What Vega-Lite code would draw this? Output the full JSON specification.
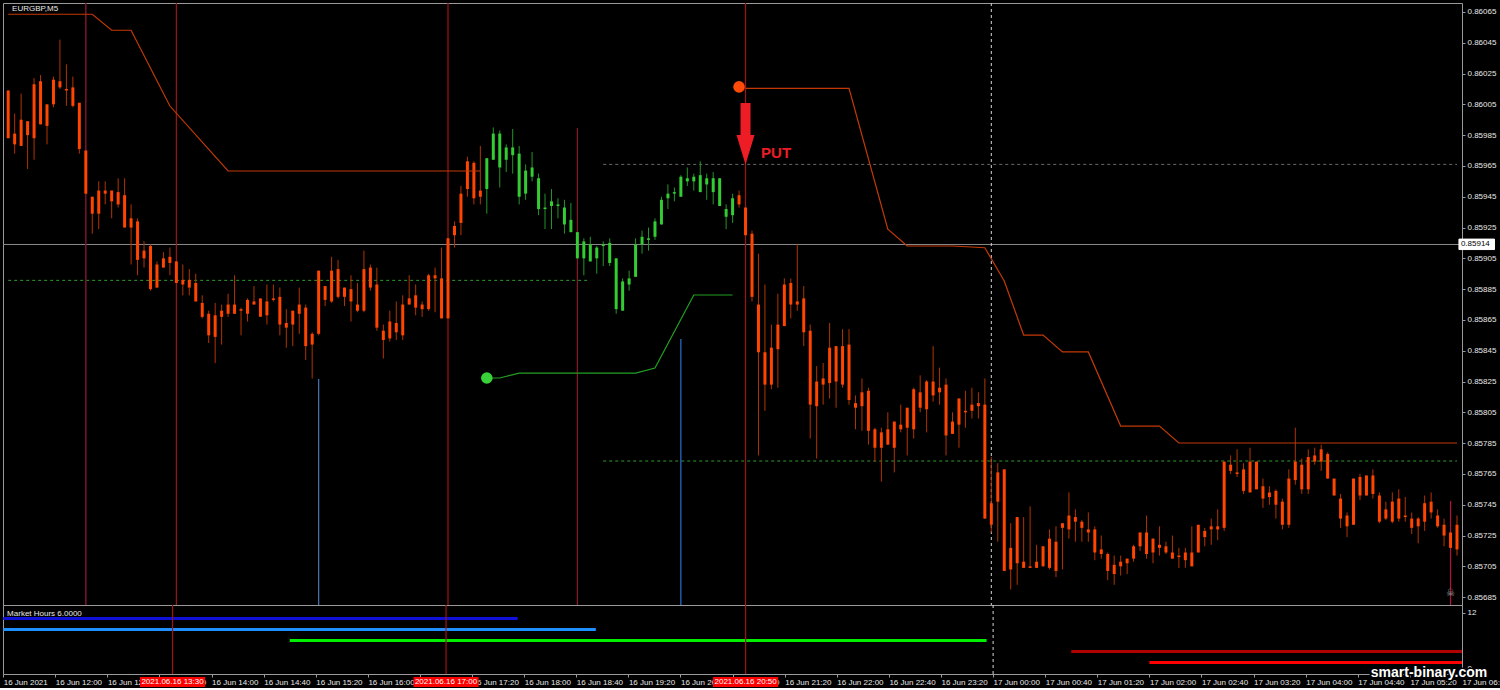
{
"$schema": "https://vega.github.io/schema/vega-lite/v6.json",
"background": "#000000",
"padding": {"left": 2, "top": 2, "right": 0, "bottom": 0},
"spacing": 0,
"bounds": "flush",
"config": {
  "view": {"stroke": "#9a9a9a", "strokeWidth": 1},
  "axis": {"labelFont": "Liberation Sans", "labelFontSize": 8, "labelColor": "#e8e8e8", "tickColor": "#9a9a9a", "domain": false, "grid": false, "labelOverlap": false, "labelFlush": false, "labelBound": false}
},
"datasets": {
"candles": [
{"t":"2021-06-16T11:20","o":0.86014,"h":0.86014,"l":0.85983,"c":0.85983,"trend":"down"},
{"t":"2021-06-16T11:25","o":0.85986,"h":0.85999,"l":0.85973,"c":0.85979,"trend":"down"},
{"t":"2021-06-16T11:30","o":0.85995,"h":0.86012,"l":0.85978,"c":0.85978,"trend":"down"},
{"t":"2021-06-16T11:35","o":0.85994,"h":0.85994,"l":0.85963,"c":0.85985,"trend":"down"},
{"t":"2021-06-16T11:40","o":0.86018,"h":0.86022,"l":0.85969,"c":0.85983,"trend":"down"},
{"t":"2021-06-16T11:45","o":0.86020,"h":0.86024,"l":0.85992,"c":0.85992,"trend":"down"},
{"t":"2021-06-16T11:50","o":0.86005,"h":0.86005,"l":0.85979,"c":0.85991,"trend":"down"},
{"t":"2021-06-16T11:55","o":0.86021,"h":0.86023,"l":0.86003,"c":0.86005,"trend":"down"},
{"t":"2021-06-16T12:00","o":0.86020,"h":0.86047,"l":0.86015,"c":0.86016,"trend":"down"},
{"t":"2021-06-16T12:05","o":0.86015,"h":0.86031,"l":0.86004,"c":0.86014,"trend":"down"},
{"t":"2021-06-16T12:10","o":0.86016,"h":0.86023,"l":0.86003,"c":0.86004,"trend":"down"},
{"t":"2021-06-16T12:15","o":0.86006,"h":0.86006,"l":0.85973,"c":0.85976,"trend":"down"},
{"t":"2021-06-16T12:20","o":0.85975,"h":0.85975,"l":0.85947,"c":0.85947,"trend":"down"},
{"t":"2021-06-16T12:25","o":0.85945,"h":0.85945,"l":0.85921,"c":0.85934,"trend":"down"},
{"t":"2021-06-16T12:30","o":0.85949,"h":0.85955,"l":0.85924,"c":0.85934,"trend":"down"},
{"t":"2021-06-16T12:35","o":0.85949,"h":0.85955,"l":0.85940,"c":0.85947,"trend":"down"},
{"t":"2021-06-16T12:40","o":0.85949,"h":0.85949,"l":0.85931,"c":0.85942,"trend":"down"},
{"t":"2021-06-16T12:45","o":0.85948,"h":0.85957,"l":0.85938,"c":0.85940,"trend":"down"},
{"t":"2021-06-16T12:50","o":0.85946,"h":0.85957,"l":0.85925,"c":0.85925,"trend":"down"},
{"t":"2021-06-16T12:55","o":0.85931,"h":0.85940,"l":0.85901,"c":0.85925,"trend":"down"},
{"t":"2021-06-16T13:00","o":0.85929,"h":0.85931,"l":0.85894,"c":0.85904,"trend":"down"},
{"t":"2021-06-16T13:05","o":0.85910,"h":0.85916,"l":0.85899,"c":0.85905,"trend":"down"},
{"t":"2021-06-16T13:10","o":0.85913,"h":0.85914,"l":0.85884,"c":0.85885,"trend":"down"},
{"t":"2021-06-16T13:15","o":0.85901,"h":0.85903,"l":0.85886,"c":0.85886,"trend":"down"},
{"t":"2021-06-16T13:20","o":0.85905,"h":0.85909,"l":0.85899,"c":0.85899,"trend":"down"},
{"t":"2021-06-16T13:25","o":0.85906,"h":0.85912,"l":0.85894,"c":0.85902,"trend":"down"},
{"t":"2021-06-16T13:30","o":0.85903,"h":0.85903,"l":0.85889,"c":0.85889,"trend":"down"},
{"t":"2021-06-16T13:35","o":0.85891,"h":0.85901,"l":0.85881,"c":0.85888,"trend":"down"},
{"t":"2021-06-16T13:40","o":0.85891,"h":0.85898,"l":0.85881,"c":0.85886,"trend":"down"},
{"t":"2021-06-16T13:45","o":0.85889,"h":0.85895,"l":0.85877,"c":0.85877,"trend":"down"},
{"t":"2021-06-16T13:50","o":0.85876,"h":0.85881,"l":0.85866,"c":0.85867,"trend":"down"},
{"t":"2021-06-16T13:55","o":0.85869,"h":0.85871,"l":0.85850,"c":0.85855,"trend":"down"},
{"t":"2021-06-16T14:00","o":0.85868,"h":0.85876,"l":0.85837,"c":0.85854,"trend":"down"},
{"t":"2021-06-16T14:05","o":0.85871,"h":0.85875,"l":0.85849,"c":0.85867,"trend":"down"},
{"t":"2021-06-16T14:10","o":0.85875,"h":0.85882,"l":0.85867,"c":0.85869,"trend":"down"},
{"t":"2021-06-16T14:15","o":0.85875,"h":0.85894,"l":0.85869,"c":0.85869,"trend":"down"},
{"t":"2021-06-16T14:20","o":0.85872,"h":0.85873,"l":0.85855,"c":0.85871,"trend":"down"},
{"t":"2021-06-16T14:25","o":0.85878,"h":0.85879,"l":0.85864,"c":0.85869,"trend":"down"},
{"t":"2021-06-16T14:30","o":0.85877,"h":0.85887,"l":0.85875,"c":0.85875,"trend":"down"},
{"t":"2021-06-16T14:35","o":0.85879,"h":0.85879,"l":0.85867,"c":0.85867,"trend":"down"},
{"t":"2021-06-16T14:40","o":0.85877,"h":0.85888,"l":0.85862,"c":0.85868,"trend":"down"},
{"t":"2021-06-16T14:45","o":0.85879,"h":0.85888,"l":0.85877,"c":0.85878,"trend":"down"},
{"t":"2021-06-16T14:50","o":0.85880,"h":0.85886,"l":0.85855,"c":0.85862,"trend":"down"},
{"t":"2021-06-16T14:55","o":0.85863,"h":0.85872,"l":0.85847,"c":0.85860,"trend":"down"},
{"t":"2021-06-16T15:00","o":0.85871,"h":0.85871,"l":0.85848,"c":0.85862,"trend":"down"},
{"t":"2021-06-16T15:05","o":0.85875,"h":0.85886,"l":0.85856,"c":0.85869,"trend":"down"},
{"t":"2021-06-16T15:10","o":0.85873,"h":0.85875,"l":0.85839,"c":0.85848,"trend":"down"},
{"t":"2021-06-16T15:15","o":0.85856,"h":0.85857,"l":0.85827,"c":0.85849,"trend":"down"},
{"t":"2021-06-16T15:20","o":0.85897,"h":0.85897,"l":0.85855,"c":0.85856,"trend":"down"},
{"t":"2021-06-16T15:25","o":0.85887,"h":0.85887,"l":0.85874,"c":0.85878,"trend":"down"},
{"t":"2021-06-16T15:30","o":0.85897,"h":0.85906,"l":0.85876,"c":0.85877,"trend":"down"},
{"t":"2021-06-16T15:35","o":0.85898,"h":0.85904,"l":0.85879,"c":0.85880,"trend":"down"},
{"t":"2021-06-16T15:40","o":0.85886,"h":0.85886,"l":0.85874,"c":0.85880,"trend":"down"},
{"t":"2021-06-16T15:45","o":0.85885,"h":0.85894,"l":0.85864,"c":0.85877,"trend":"down"},
{"t":"2021-06-16T15:50","o":0.85875,"h":0.85889,"l":0.85870,"c":0.85871,"trend":"down"},
{"t":"2021-06-16T15:55","o":0.85898,"h":0.85910,"l":0.85870,"c":0.85871,"trend":"down"},
{"t":"2021-06-16T16:00","o":0.85899,"h":0.85901,"l":0.85884,"c":0.85886,"trend":"down"},
{"t":"2021-06-16T16:05","o":0.85888,"h":0.85899,"l":0.85858,"c":0.85860,"trend":"down"},
{"t":"2021-06-16T16:10","o":0.85858,"h":0.85862,"l":0.85840,"c":0.85852,"trend":"down"},
{"t":"2021-06-16T16:15","o":0.85864,"h":0.85871,"l":0.85851,"c":0.85853,"trend":"down"},
{"t":"2021-06-16T16:20","o":0.85863,"h":0.85877,"l":0.85852,"c":0.85857,"trend":"down"},
{"t":"2021-06-16T16:25","o":0.85875,"h":0.85881,"l":0.85852,"c":0.85855,"trend":"down"},
{"t":"2021-06-16T16:30","o":0.85879,"h":0.85894,"l":0.85875,"c":0.85875,"trend":"down"},
{"t":"2021-06-16T16:35","o":0.85881,"h":0.85888,"l":0.85868,"c":0.85873,"trend":"down"},
{"t":"2021-06-16T16:40","o":0.85875,"h":0.85877,"l":0.85867,"c":0.85872,"trend":"down"},
{"t":"2021-06-16T16:45","o":0.85894,"h":0.85895,"l":0.85871,"c":0.85872,"trend":"down"},
{"t":"2021-06-16T16:50","o":0.85894,"h":0.85899,"l":0.85870,"c":0.85892,"trend":"down"},
{"t":"2021-06-16T16:55","o":0.85892,"h":0.85912,"l":0.85866,"c":0.85866,"trend":"down"},
{"t":"2021-06-16T17:00","o":0.85918,"h":0.85918,"l":0.85866,"c":0.85866,"trend":"down"},
{"t":"2021-06-16T17:05","o":0.85926,"h":0.85929,"l":0.85912,"c":0.85920,"trend":"down"},
{"t":"2021-06-16T17:10","o":0.85947,"h":0.85952,"l":0.85920,"c":0.85928,"trend":"down"},
{"t":"2021-06-16T17:15","o":0.85968,"h":0.85971,"l":0.85945,"c":0.85950,"trend":"down"},
{"t":"2021-06-16T17:20","o":0.85967,"h":0.85968,"l":0.85940,"c":0.85944,"trend":"down"},
{"t":"2021-06-16T17:25","o":0.85949,"h":0.85978,"l":0.85940,"c":0.85945,"trend":"down"},
{"t":"2021-06-16T17:30","o":0.85970,"h":0.85970,"l":0.85934,"c":0.85950,"trend":"up"},
{"t":"2021-06-16T17:35","o":0.85986,"h":0.85990,"l":0.85969,"c":0.85969,"trend":"up"},
{"t":"2021-06-16T17:40","o":0.85986,"h":0.85988,"l":0.85951,"c":0.85964,"trend":"up"},
{"t":"2021-06-16T17:45","o":0.85977,"h":0.85979,"l":0.85961,"c":0.85969,"trend":"up"},
{"t":"2021-06-16T17:50","o":0.85977,"h":0.85989,"l":0.85960,"c":0.85972,"trend":"up"},
{"t":"2021-06-16T17:55","o":0.85973,"h":0.85978,"l":0.85940,"c":0.85945,"trend":"up"},
{"t":"2021-06-16T18:00","o":0.85962,"h":0.85966,"l":0.85943,"c":0.85947,"trend":"up"},
{"t":"2021-06-16T18:05","o":0.85964,"h":0.85974,"l":0.85955,"c":0.85958,"trend":"up"},
{"t":"2021-06-16T18:10","o":0.85957,"h":0.85960,"l":0.85933,"c":0.85937,"trend":"up"},
{"t":"2021-06-16T18:15","o":0.85938,"h":0.85947,"l":0.85924,"c":0.85937,"trend":"up"},
{"t":"2021-06-16T18:20","o":0.85942,"h":0.85950,"l":0.85924,"c":0.85939,"trend":"up"},
{"t":"2021-06-16T18:25","o":0.85940,"h":0.85944,"l":0.85931,"c":0.85939,"trend":"up"},
{"t":"2021-06-16T18:30","o":0.85938,"h":0.85943,"l":0.85921,"c":0.85927,"trend":"up"},
{"t":"2021-06-16T18:35","o":0.85930,"h":0.85941,"l":0.85922,"c":0.85922,"trend":"up"},
{"t":"2021-06-16T18:40","o":0.85922,"h":0.85922,"l":0.85905,"c":0.85905,"trend":"up"},
{"t":"2021-06-16T18:45","o":0.85916,"h":0.85918,"l":0.85894,"c":0.85905,"trend":"up"},
{"t":"2021-06-16T18:50","o":0.85914,"h":0.85919,"l":0.85903,"c":0.85903,"trend":"up"},
{"t":"2021-06-16T18:55","o":0.85912,"h":0.85913,"l":0.85895,"c":0.85905,"trend":"up"},
{"t":"2021-06-16T19:00","o":0.85914,"h":0.85916,"l":0.85900,"c":0.85913,"trend":"up"},
{"t":"2021-06-16T19:05","o":0.85915,"h":0.85918,"l":0.85900,"c":0.85902,"trend":"up"},
{"t":"2021-06-16T19:10","o":0.85905,"h":0.85905,"l":0.85869,"c":0.85872,"trend":"up"},
{"t":"2021-06-16T19:15","o":0.85890,"h":0.85892,"l":0.85871,"c":0.85871,"trend":"up"},
{"t":"2021-06-16T19:20","o":0.85892,"h":0.85897,"l":0.85884,"c":0.85888,"trend":"up"},
{"t":"2021-06-16T19:25","o":0.85914,"h":0.85918,"l":0.85893,"c":0.85893,"trend":"up"},
{"t":"2021-06-16T19:30","o":0.85919,"h":0.85923,"l":0.85908,"c":0.85914,"trend":"up"},
{"t":"2021-06-16T19:35","o":0.85918,"h":0.85925,"l":0.85910,"c":0.85917,"trend":"up"},
{"t":"2021-06-16T19:40","o":0.85929,"h":0.85931,"l":0.85917,"c":0.85919,"trend":"up"},
{"t":"2021-06-16T19:45","o":0.85943,"h":0.85945,"l":0.85927,"c":0.85927,"trend":"up"},
{"t":"2021-06-16T19:50","o":0.85947,"h":0.85953,"l":0.85937,"c":0.85944,"trend":"up"},
{"t":"2021-06-16T19:55","o":0.85948,"h":0.85951,"l":0.85942,"c":0.85947,"trend":"up"},
{"t":"2021-06-16T20:00","o":0.85958,"h":0.85959,"l":0.85945,"c":0.85945,"trend":"up"},
{"t":"2021-06-16T20:05","o":0.85957,"h":0.85964,"l":0.85952,"c":0.85955,"trend":"up"},
{"t":"2021-06-16T20:10","o":0.85958,"h":0.85960,"l":0.85949,"c":0.85955,"trend":"up"},
{"t":"2021-06-16T20:15","o":0.85959,"h":0.85968,"l":0.85948,"c":0.85948,"trend":"up"},
{"t":"2021-06-16T20:20","o":0.85957,"h":0.85960,"l":0.85943,"c":0.85953,"trend":"up"},
{"t":"2021-06-16T20:25","o":0.85957,"h":0.85961,"l":0.85940,"c":0.85948,"trend":"up"},
{"t":"2021-06-16T20:30","o":0.85957,"h":0.85957,"l":0.85939,"c":0.85939,"trend":"up"},
{"t":"2021-06-16T20:35","o":0.85937,"h":0.85940,"l":0.85924,"c":0.85932,"trend":"up"},
{"t":"2021-06-16T20:40","o":0.85944,"h":0.85947,"l":0.85928,"c":0.85933,"trend":"up"},
{"t":"2021-06-16T20:45","o":0.85946,"h":0.85949,"l":0.85938,"c":0.85940,"trend":"down"},
{"t":"2021-06-16T20:50","o":0.85938,"h":0.85938,"l":0.85920,"c":0.85920,"trend":"down"},
{"t":"2021-06-16T20:55","o":0.85921,"h":0.85923,"l":0.85877,"c":0.85880,"trend":"down"},
{"t":"2021-06-16T21:00","o":0.85875,"h":0.85908,"l":0.85777,"c":0.85844,"trend":"down"},
{"t":"2021-06-16T21:05","o":0.85844,"h":0.85888,"l":0.85806,"c":0.85823,"trend":"down"},
{"t":"2021-06-16T21:10","o":0.85847,"h":0.85862,"l":0.85820,"c":0.85823,"trend":"down"},
{"t":"2021-06-16T21:15","o":0.85862,"h":0.85882,"l":0.85821,"c":0.85846,"trend":"down"},
{"t":"2021-06-16T21:20","o":0.85888,"h":0.85892,"l":0.85861,"c":0.85861,"trend":"down"},
{"t":"2021-06-16T21:25","o":0.85889,"h":0.85892,"l":0.85866,"c":0.85875,"trend":"down"},
{"t":"2021-06-16T21:30","o":0.85877,"h":0.85914,"l":0.85871,"c":0.85875,"trend":"down"},
{"t":"2021-06-16T21:35","o":0.85879,"h":0.85887,"l":0.85848,"c":0.85857,"trend":"down"},
{"t":"2021-06-16T21:40","o":0.85858,"h":0.85862,"l":0.85788,"c":0.85810,"trend":"down"},
{"t":"2021-06-16T21:45","o":0.85825,"h":0.85835,"l":0.85775,"c":0.85809,"trend":"down"},
{"t":"2021-06-16T21:50","o":0.85827,"h":0.85837,"l":0.85810,"c":0.85823,"trend":"down"},
{"t":"2021-06-16T21:55","o":0.85847,"h":0.85863,"l":0.85814,"c":0.85824,"trend":"down"},
{"t":"2021-06-16T22:00","o":0.85848,"h":0.85848,"l":0.85808,"c":0.85825,"trend":"down"},
{"t":"2021-06-16T22:05","o":0.85848,"h":0.85859,"l":0.85821,"c":0.85823,"trend":"down"},
{"t":"2021-06-16T22:10","o":0.85849,"h":0.85859,"l":0.85810,"c":0.85813,"trend":"down"},
{"t":"2021-06-16T22:15","o":0.85811,"h":0.85816,"l":0.85794,"c":0.85808,"trend":"down"},
{"t":"2021-06-16T22:20","o":0.85818,"h":0.85827,"l":0.85793,"c":0.85809,"trend":"down"},
{"t":"2021-06-16T22:25","o":0.85819,"h":0.85821,"l":0.85784,"c":0.85793,"trend":"down"},
{"t":"2021-06-16T22:30","o":0.85794,"h":0.85795,"l":0.85773,"c":0.85782,"trend":"down"},
{"t":"2021-06-16T22:35","o":0.85792,"h":0.85795,"l":0.85760,"c":0.85782,"trend":"down"},
{"t":"2021-06-16T22:40","o":0.85794,"h":0.85805,"l":0.85784,"c":0.85784,"trend":"down"},
{"t":"2021-06-16T22:45","o":0.85799,"h":0.85799,"l":0.85766,"c":0.85782,"trend":"down"},
{"t":"2021-06-16T22:50","o":0.85797,"h":0.85810,"l":0.85792,"c":0.85794,"trend":"down"},
{"t":"2021-06-16T22:55","o":0.85808,"h":0.85808,"l":0.85777,"c":0.85795,"trend":"down"},
{"t":"2021-06-16T23:00","o":0.85820,"h":0.85821,"l":0.85788,"c":0.85794,"trend":"down"},
{"t":"2021-06-16T23:05","o":0.85818,"h":0.85829,"l":0.85805,"c":0.85808,"trend":"down"},
{"t":"2021-06-16T23:10","o":0.85825,"h":0.85826,"l":0.85792,"c":0.85807,"trend":"down"},
{"t":"2021-06-16T23:15","o":0.85825,"h":0.85848,"l":0.85812,"c":0.85816,"trend":"down"},
{"t":"2021-06-16T23:20","o":0.85821,"h":0.85834,"l":0.85810,"c":0.85818,"trend":"down"},
{"t":"2021-06-16T23:25","o":0.85823,"h":0.85827,"l":0.85777,"c":0.85790,"trend":"down"},
{"t":"2021-06-16T23:30","o":0.85799,"h":0.85805,"l":0.85791,"c":0.85791,"trend":"down"},
{"t":"2021-06-16T23:35","o":0.85814,"h":0.85814,"l":0.85782,"c":0.85797,"trend":"down"},
{"t":"2021-06-16T23:40","o":0.85806,"h":0.85819,"l":0.85795,"c":0.85805,"trend":"down"},
{"t":"2021-06-16T23:45","o":0.85810,"h":0.85821,"l":0.85801,"c":0.85806,"trend":"down"},
{"t":"2021-06-16T23:50","o":0.85811,"h":0.85818,"l":0.85801,"c":0.85809,"trend":"down"},
{"t":"2021-06-16T23:55","o":0.85810,"h":0.85827,"l":0.85736,"c":0.85736,"trend":"down"},
{"t":"2021-06-17T00:00","o":0.85746,"h":0.85776,"l":0.85727,"c":0.85732,"trend":"down"},
{"t":"2021-06-17T00:05","o":0.85766,"h":0.85772,"l":0.85721,"c":0.85747,"trend":"down"},
{"t":"2021-06-17T00:10","o":0.85768,"h":0.85768,"l":0.85702,"c":0.85702,"trend":"down"},
{"t":"2021-06-17T00:15","o":0.85717,"h":0.85733,"l":0.85690,"c":0.85703,"trend":"down"},
{"t":"2021-06-17T00:20","o":0.85737,"h":0.85737,"l":0.85693,"c":0.85707,"trend":"down"},
{"t":"2021-06-17T00:25","o":0.85708,"h":0.85737,"l":0.85704,"c":0.85704,"trend":"down"},
{"t":"2021-06-17T00:30","o":0.85705,"h":0.85744,"l":0.85704,"c":0.85704,"trend":"down"},
{"t":"2021-06-17T00:35","o":0.85708,"h":0.85719,"l":0.85704,"c":0.85704,"trend":"down"},
{"t":"2021-06-17T00:40","o":0.85718,"h":0.85718,"l":0.85705,"c":0.85705,"trend":"down"},
{"t":"2021-06-17T00:45","o":0.85723,"h":0.85729,"l":0.85703,"c":0.85704,"trend":"down"},
{"t":"2021-06-17T00:50","o":0.85721,"h":0.85731,"l":0.85698,"c":0.85702,"trend":"down"},
{"t":"2021-06-17T00:55","o":0.85733,"h":0.85733,"l":0.85703,"c":0.85730,"trend":"down"},
{"t":"2021-06-17T01:00","o":0.85738,"h":0.85753,"l":0.85723,"c":0.85729,"trend":"down"},
{"t":"2021-06-17T01:05","o":0.85737,"h":0.85742,"l":0.85721,"c":0.85734,"trend":"down"},
{"t":"2021-06-17T01:10","o":0.85734,"h":0.85735,"l":0.85721,"c":0.85730,"trend":"down"},
{"t":"2021-06-17T01:15","o":0.85729,"h":0.85740,"l":0.85721,"c":0.85727,"trend":"down"},
{"t":"2021-06-17T01:20","o":0.85729,"h":0.85731,"l":0.85709,"c":0.85714,"trend":"down"},
{"t":"2021-06-17T01:25","o":0.85716,"h":0.85725,"l":0.85710,"c":0.85713,"trend":"down"},
{"t":"2021-06-17T01:30","o":0.85713,"h":0.85714,"l":0.85696,"c":0.85702,"trend":"down"},
{"t":"2021-06-17T01:35","o":0.85706,"h":0.85712,"l":0.85693,"c":0.85700,"trend":"down"},
{"t":"2021-06-17T01:40","o":0.85708,"h":0.85712,"l":0.85699,"c":0.85705,"trend":"down"},
{"t":"2021-06-17T01:45","o":0.85710,"h":0.85710,"l":0.85700,"c":0.85707,"trend":"down"},
{"t":"2021-06-17T01:50","o":0.85718,"h":0.85719,"l":0.85708,"c":0.85710,"trend":"down"},
{"t":"2021-06-17T01:55","o":0.85727,"h":0.85727,"l":0.85715,"c":0.85718,"trend":"down"},
{"t":"2021-06-17T02:00","o":0.85727,"h":0.85738,"l":0.85710,"c":0.85713,"trend":"down"},
{"t":"2021-06-17T02:05","o":0.85723,"h":0.85723,"l":0.85707,"c":0.85714,"trend":"down"},
{"t":"2021-06-17T02:10","o":0.85719,"h":0.85731,"l":0.85712,"c":0.85717,"trend":"down"},
{"t":"2021-06-17T02:15","o":0.85718,"h":0.85721,"l":0.85713,"c":0.85714,"trend":"down"},
{"t":"2021-06-17T02:20","o":0.85714,"h":0.85725,"l":0.85710,"c":0.85710,"trend":"down"},
{"t":"2021-06-17T02:25","o":0.85712,"h":0.85717,"l":0.85704,"c":0.85711,"trend":"down"},
{"t":"2021-06-17T02:30","o":0.85714,"h":0.85717,"l":0.85704,"c":0.85709,"trend":"down"},
{"t":"2021-06-17T02:35","o":0.85714,"h":0.85731,"l":0.85705,"c":0.85705,"trend":"down"},
{"t":"2021-06-17T02:40","o":0.85732,"h":0.85732,"l":0.85714,"c":0.85714,"trend":"down"},
{"t":"2021-06-17T02:45","o":0.85728,"h":0.85730,"l":0.85718,"c":0.85724,"trend":"down"},
{"t":"2021-06-17T02:50","o":0.85731,"h":0.85736,"l":0.85719,"c":0.85729,"trend":"down"},
{"t":"2021-06-17T02:55","o":0.85731,"h":0.85742,"l":0.85722,"c":0.85729,"trend":"down"},
{"t":"2021-06-17T03:00","o":0.85773,"h":0.85773,"l":0.85728,"c":0.85730,"trend":"down"},
{"t":"2021-06-17T03:05","o":0.85771,"h":0.85777,"l":0.85765,"c":0.85767,"trend":"down"},
{"t":"2021-06-17T03:10","o":0.85766,"h":0.85781,"l":0.85763,"c":0.85765,"trend":"down"},
{"t":"2021-06-17T03:15","o":0.85768,"h":0.85772,"l":0.85752,"c":0.85754,"trend":"down"},
{"t":"2021-06-17T03:20","o":0.85773,"h":0.85782,"l":0.85753,"c":0.85753,"trend":"down"},
{"t":"2021-06-17T03:25","o":0.85773,"h":0.85773,"l":0.85755,"c":0.85755,"trend":"down"},
{"t":"2021-06-17T03:30","o":0.85757,"h":0.85762,"l":0.85743,"c":0.85749,"trend":"down"},
{"t":"2021-06-17T03:35","o":0.85753,"h":0.85757,"l":0.85745,"c":0.85750,"trend":"down"},
{"t":"2021-06-17T03:40","o":0.85754,"h":0.85755,"l":0.85736,"c":0.85745,"trend":"down"},
{"t":"2021-06-17T03:45","o":0.85747,"h":0.85749,"l":0.85729,"c":0.85732,"trend":"down"},
{"t":"2021-06-17T03:50","o":0.85762,"h":0.85768,"l":0.85730,"c":0.85732,"trend":"down"},
{"t":"2021-06-17T03:55","o":0.85773,"h":0.85795,"l":0.85758,"c":0.85761,"trend":"down"},
{"t":"2021-06-17T04:00","o":0.85771,"h":0.85775,"l":0.85752,"c":0.85755,"trend":"down"},
{"t":"2021-06-17T04:05","o":0.85776,"h":0.85781,"l":0.85752,"c":0.85755,"trend":"down"},
{"t":"2021-06-17T04:10","o":0.85777,"h":0.85782,"l":0.85771,"c":0.85773,"trend":"down"},
{"t":"2021-06-17T04:15","o":0.85781,"h":0.85784,"l":0.85767,"c":0.85773,"trend":"down"},
{"t":"2021-06-17T04:20","o":0.85778,"h":0.85779,"l":0.85762,"c":0.85762,"trend":"down"},
{"t":"2021-06-17T04:25","o":0.85762,"h":0.85762,"l":0.85751,"c":0.85751,"trend":"down"},
{"t":"2021-06-17T04:30","o":0.85749,"h":0.85752,"l":0.85730,"c":0.85736,"trend":"down"},
{"t":"2021-06-17T04:35","o":0.85738,"h":0.85740,"l":0.85724,"c":0.85731,"trend":"down"},
{"t":"2021-06-17T04:40","o":0.85762,"h":0.85762,"l":0.85732,"c":0.85732,"trend":"down"},
{"t":"2021-06-17T04:45","o":0.85763,"h":0.85765,"l":0.85748,"c":0.85751,"trend":"down"},
{"t":"2021-06-17T04:50","o":0.85764,"h":0.85764,"l":0.85751,"c":0.85751,"trend":"down"},
{"t":"2021-06-17T04:55","o":0.85764,"h":0.85768,"l":0.85749,"c":0.85752,"trend":"down"},
{"t":"2021-06-17T05:00","o":0.85751,"h":0.85753,"l":0.85733,"c":0.85734,"trend":"down"},
{"t":"2021-06-17T05:05","o":0.85742,"h":0.85747,"l":0.85735,"c":0.85736,"trend":"down"},
{"t":"2021-06-17T05:10","o":0.85747,"h":0.85753,"l":0.85733,"c":0.85734,"trend":"down"},
{"t":"2021-06-17T05:15","o":0.85749,"h":0.85755,"l":0.85734,"c":0.85736,"trend":"down"},
{"t":"2021-06-17T05:20","o":0.85738,"h":0.85750,"l":0.85734,"c":0.85737,"trend":"down"},
{"t":"2021-06-17T05:25","o":0.85736,"h":0.85740,"l":0.85726,"c":0.85730,"trend":"down"},
{"t":"2021-06-17T05:30","o":0.85736,"h":0.85737,"l":0.85720,"c":0.85731,"trend":"down"},
{"t":"2021-06-17T05:35","o":0.85746,"h":0.85751,"l":0.85728,"c":0.85734,"trend":"down"},
{"t":"2021-06-17T05:40","o":0.85747,"h":0.85753,"l":0.85736,"c":0.85740,"trend":"down"},
{"t":"2021-06-17T05:45","o":0.85738,"h":0.85742,"l":0.85730,"c":0.85731,"trend":"down"},
{"t":"2021-06-17T05:50","o":0.85732,"h":0.85736,"l":0.85718,"c":0.85725,"trend":"down"},
{"t":"2021-06-17T05:55","o":0.85727,"h":0.85727,"l":0.85717,"c":0.85717,"trend":"down"},
{"t":"2021-06-17T06:00","o":0.85732,"h":0.85738,"l":0.85712,"c":0.85716,"trend":"down"}
],
"resistance": [
{"t":"2021-06-16T11:20","p":0.860635,"seg":"a"},
{"t":"2021-06-16T12:25","p":0.860635,"seg":"a"},
{"t":"2021-06-16T12:40","p":0.860531,"seg":"a"},
{"t":"2021-06-16T12:55","p":0.860531,"seg":"a"},
{"t":"2021-06-16T13:25","p":0.860039,"seg":"a"},
{"t":"2021-06-16T14:10","p":0.859617,"seg":"a"},
{"t":"2021-06-16T17:25","p":0.859617,"seg":"a"},
{"t":"2021-06-16T20:50","p":0.860154,"seg":"b"},
{"t":"2021-06-16T22:10","p":0.860154,"seg":"b"},
{"t":"2021-06-16T22:40","p":0.859240,"seg":"b"},
{"t":"2021-06-16T22:55","p":0.859130,"seg":"b"},
{"t":"2021-06-16T23:30","p":0.859130,"seg":"b"},
{"t":"2021-06-16T23:55","p":0.859119,"seg":"b"},
{"t":"2021-06-17T00:10","p":0.858903,"seg":"b"},
{"t":"2021-06-17T00:25","p":0.858552,"seg":"b"},
{"t":"2021-06-17T00:40","p":0.858552,"seg":"b"},
{"t":"2021-06-17T00:55","p":0.858442,"seg":"b"},
{"t":"2021-06-17T01:15","p":0.858442,"seg":"b"},
{"t":"2021-06-17T01:40","p":0.857961,"seg":"b"},
{"t":"2021-06-17T02:10","p":0.857961,"seg":"b"},
{"t":"2021-06-17T02:25","p":0.857851,"seg":"b"},
{"t":"2021-06-17T06:00","p":0.857851,"seg":"b"}
],
"support": [
{"t":"2021-06-16T17:30","p":0.858273},
{"t":"2021-06-16T17:40","p":0.858273},
{"t":"2021-06-16T17:55","p":0.858305},
{"t":"2021-06-16T19:25","p":0.858305},
{"t":"2021-06-16T19:40","p":0.858338},
{"t":"2021-06-16T20:10","p":0.858812},
{"t":"2021-06-16T20:40","p":0.858812}
],
"signals": [
{"t":"2021-06-16T20:45","p":0.860163,"kind":"sell"},
{"t":"2021-06-16T17:30","p":0.858273,"kind":"buy"}
],
"levels": [
{"from":"2021-06-16T11:20","to":"2021-06-16T18:50","price":0.858907,"kind":"prior"},
{"from":"2021-06-16T19:00","to":"2021-06-17T06:00","price":0.859660,"kind":"entry"},
{"from":"2021-06-16T19:00","to":"2021-06-17T06:00","price":0.857734,"kind":"target"}
],
"events": [
{"t":"2021-06-16T13:30","label":"2021.06.16 13:30","from":"2021-06-16T13:05","to":"2021-06-16T13:55"},
{"t":"2021-06-16T17:00","label":"2021.06.16 17:00","from":"2021-06-16T16:35","to":"2021-06-16T17:25"},
{"t":"2021-06-16T20:50","label":"2021.06.16 20:50","from":"2021-06-16T20:25","to":"2021-06-16T21:15"}
],
"markers": [
{"t":"2021-06-16T18:40","top":0.859896,"kind":"marker"},
{"t":"2021-06-16T15:20","top":0.858266,"kind":"news"},
{"t":"2021-06-16T20:00","top":0.858526,"kind":"news2"},
{"t":"2021-06-17T05:55","top":0.857474,"kind":"expiry"}
],
"sessions": [
{"name":"Frankfurt","from":"2021-06-16T11:20","to":"2021-06-16T17:55","level":10.8},
{"name":"London","from":"2021-06-16T11:20","to":"2021-06-16T18:55","level":8.4},
{"name":"New York","from":"2021-06-16T15:00","to":"2021-06-16T23:55","level":6.0},
{"name":"Sydney","from":"2021-06-17T01:00","to":"2021-06-17T06:00","level":3.6},
{"name":"Tokyo","from":"2021-06-17T02:00","to":"2021-06-17T06:00","level":1.2}
]
},
"vconcat": [
{
"width": 1459,
"height": 602,
"layer": [
{
"data": {"values": [{"price": 0.85914}]},
"mark": {"type": "rule", "color": "#8a8a8a", "strokeWidth": 1, "clip": true},
"encoding": {
"y": {"field": "price", "type": "quantitative",
"scale": {"domain": [0.856799, 0.860708], "nice": false, "zero": false},
"axis": {"orient": "right", "title": null, "format": ".5f", "tickSize": 3, "labelPadding": 2, "labelFlush": false, "labelOverlap": false, "tickCount": 40,
"values": [0.85685,0.85705,0.85725,0.85745,0.85765,0.85785,0.85805,0.85825,0.85845,0.85865,0.85885,0.85905,0.85925,0.85945,0.85965,0.85985,0.86005,0.86025,0.86045,0.86065]}}
}
},
{
"data": {"name": "levels"},
"mark": {"type": "rule", "strokeWidth": 1, "strokeDash": [3, 3], "clip": true},
"encoding": {
"x": {"field": "from", "type": "temporal", "axis": null,
"scale": {"domain": [{"year":2021,"month":6,"date":16,"hours":11,"minutes":19,"seconds":51},{"year":2021,"month":6,"date":17,"hours":6,"minutes":0,"seconds":0}], "nice": false}},
"x2": {"field": "to"},
"y": {"field": "price", "type": "quantitative", "axis": {"title": null}},
"color": {"condition": {"test": "datum.kind == 'entry'", "value": "#6a6a6a"}, "value": "#2f9a2f"}
}
},
{
"data": {"name": "events"},
"mark": {"type": "rule", "color": "#a01414", "strokeWidth": 1.2, "clip": true},
"encoding": {"x": {"field": "t", "type": "temporal", "axis": null}}
},
{
"data": {"values": [{"t": "2021-06-16T12:20"}]},
"mark": {"type": "rule", "color": "#7d1430", "strokeWidth": 1.5, "clip": true},
"encoding": {"x": {"field": "t", "type": "temporal", "axis": null}}
},
{
"data": {"values": [{"t": "2021-06-17T00:00"}]},
"mark": {"type": "rule", "color": "#d8d8d8", "strokeWidth": 1, "strokeDash": [3, 3], "clip": true},
"encoding": {"x": {"field": "t", "type": "temporal", "axis": null}}
},
{
"data": {"name": "markers"},
"mark": {"type": "rule", "strokeWidth": 1.2, "clip": true},
"encoding": {
"x": {"field": "t", "type": "temporal", "axis": null},
"y": {"field": "top", "type": "quantitative", "axis": {"title": null}},
"y2": {"datum": 0.856799},
"color": {"condition": [
{"test": "datum.kind == 'marker'", "value": "#8b1a2a"},
{"test": "datum.kind == 'news'", "value": "#4a78b0"},
{"test": "datum.kind == 'news2'", "value": "#2a6fd6"}
], "value": "#b5123a"}
}
},
{
"data": {"name": "candles"},
"mark": {"type": "rule", "strokeWidth": 1, "clip": true},
"encoding": {
"x": {"field": "t", "type": "temporal", "axis": null},
"y": {"field": "h", "type": "quantitative", "axis": {"title": null}},
"y2": {"field": "l"},
"color": {"condition": {"test": "datum.trend == 'up'", "value": "#24942a"}, "value": "#b03400"}
}
},
{
"data": {"name": "candles"},
"mark": {"type": "bar", "size": 3, "clip": true},
"encoding": {
"x": {"field": "t", "type": "temporal", "axis": null},
"y": {"field": "o", "type": "quantitative", "axis": {"title": null}},
"y2": {"field": "c"},
"color": {"condition": {"test": "datum.trend == 'up'", "value": "#33cc33"}, "value": "#ff4500"}
}
},
{
"data": {"name": "resistance"},
"mark": {"type": "line", "color": "#c23a06", "strokeWidth": 1.2, "clip": true},
"encoding": {
"x": {"field": "t", "type": "temporal", "axis": null},
"y": {"field": "p", "type": "quantitative", "axis": {"title": null}},
"detail": {"field": "seg"}
}
},
{
"data": {"name": "support"},
"mark": {"type": "line", "color": "#22a022", "strokeWidth": 1.2, "clip": true},
"encoding": {
"x": {"field": "t", "type": "temporal", "axis": null},
"y": {"field": "p", "type": "quantitative", "axis": {"title": null}}
}
},
{
"data": {"name": "signals"},
"mark": {"type": "point", "shape": "circle", "filled": true, "size": 135, "opacity": 1},
"encoding": {
"x": {"field": "t", "type": "temporal", "axis": null},
"y": {"field": "p", "type": "quantitative", "axis": {"title": null}},
"color": {"condition": {"test": "datum.kind == 'buy'", "value": "#3ad03a"}, "value": "#ff4a0a"}
}
},
{
"data": {"values": [{"signal": "PUT"}]},
"mark": {"type": "point", "filled": true, "opacity": 1, "color": "#ee1c25", "size": 3758,
"shape": "M-0.163,-1L0.163,-1L0.163,0.042L0.294,0.042L0,1L-0.294,0.042L-0.163,0.042Z"},
"encoding": {
"x": {"datum": {"year":2021,"month":6,"date":16,"hours":20,"minutes":50}, "type": "temporal", "axis": null},
"y": {"datum": 0.859859, "type": "quantitative", "axis": {"title": null}}
}
},
{
"data": {"values": [{"signal": "PUT"}]},
"mark": {"type": "text", "color": "#ee1c25", "font": "Liberation Sans", "fontWeight": "bold", "fontSize": 15, "align": "left", "baseline": "middle"},
"encoding": {
"text": {"field": "signal"},
"x": {"datum": {"year":2021,"month":6,"date":16,"hours":21,"minutes":2}, "type": "temporal", "axis": null},
"y": {"datum": 0.859731, "type": "quantitative", "axis": {"title": null}}
}
},
{
"data": {"values": [{"label": "EURGBP,M5"}]},
"mark": {"type": "text", "color": "#e8e8e8", "font": "Liberation Sans", "fontSize": 8, "align": "left", "baseline": "middle"},
"encoding": {
"text": {"field": "label"},
"x": {"datum": {"year":2021,"month":6,"date":16,"hours":11,"minutes":23}, "type": "temporal", "axis": null},
"y": {"datum": 0.860667, "type": "quantitative", "axis": {"title": null}}
}
},
{
"data": {"values": [{"label": "☠"}]},
"mark": {"type": "text", "color": "#9a9a9a", "font": "DejaVu Sans", "fontSize": 10, "align": "center", "baseline": "middle"},
"encoding": {
"text": {"field": "label"},
"x": {"datum": {"year":2021,"month":6,"date":17,"hours":5,"minutes":55}, "type": "temporal", "axis": null},
"y": {"datum": 0.856877, "type": "quantitative", "axis": {"title": null}}
}
},
{
"data": {"values": [{"price": 0.85914}]},
"mark": {"type": "rect", "color": "#ffffff", "stroke": "#ffffff"},
"encoding": {
"x": {"datum": {"year":2021,"month":6,"date":17,"hours":6,"minutes":1,"seconds":30}, "type": "temporal", "axis": null},
"x2": {"datum": {"year":2021,"month":6,"date":17,"hours":6,"minutes":29}},
"y": {"datum": 0.859175, "type": "quantitative", "axis": {"title": null}},
"y2": {"datum": 0.859107}
}
},
{
"data": {"values": [{"price": 0.85914}]},
"mark": {"type": "text", "color": "#000000", "font": "Liberation Sans", "fontSize": 8, "align": "left", "baseline": "middle"},
"encoding": {
"text": {"field": "price", "type": "quantitative", "format": ".5f"},
"x": {"datum": {"year":2021,"month":6,"date":17,"hours":6,"minutes":3}, "type": "temporal", "axis": null},
"y": {"field": "price", "type": "quantitative", "axis": {"title": null}}
}
}
]
},
{
"width": 1459,
"height": 69,
"layer": [
{
"data": {"name": "sessions"},
"mark": {"type": "rule", "strokeWidth": 3, "clip": true},
"encoding": {
"x": {"field": "from", "type": "temporal",
"scale": {"domain": [{"year":2021,"month":6,"date":16,"hours":11,"minutes":19,"seconds":51},{"year":2021,"month":6,"date":17,"hours":6,"minutes":0,"seconds":0}], "nice": false},
"axis": {"orient": "bottom", "title": null, "format": "%d %b %H:%M", "labelAlign": "left", "tickSize": 3, "labelPadding": 1, "tickCount": 60,
"labelFlush": false, "labelOverlap": false, "labelBound": false,
"labelExpr": "timeFormat(datum.value, '%H:%M') == '11:20' ? '16 Jun 2021' : datum.label",
"values": [
{"year":2021,"month":6,"date":16,"hours":11,"minutes":20},
{"year":2021,"month":6,"date":16,"hours":12,"minutes":0},
{"year":2021,"month":6,"date":16,"hours":12,"minutes":40},
{"year":2021,"month":6,"date":16,"hours":13,"minutes":20},
{"year":2021,"month":6,"date":16,"hours":14,"minutes":0},
{"year":2021,"month":6,"date":16,"hours":14,"minutes":40},
{"year":2021,"month":6,"date":16,"hours":15,"minutes":20},
{"year":2021,"month":6,"date":16,"hours":16,"minutes":0},
{"year":2021,"month":6,"date":16,"hours":16,"minutes":40},
{"year":2021,"month":6,"date":16,"hours":17,"minutes":20},
{"year":2021,"month":6,"date":16,"hours":18,"minutes":0},
{"year":2021,"month":6,"date":16,"hours":18,"minutes":40},
{"year":2021,"month":6,"date":16,"hours":19,"minutes":20},
{"year":2021,"month":6,"date":16,"hours":20,"minutes":0},
{"year":2021,"month":6,"date":16,"hours":20,"minutes":40},
{"year":2021,"month":6,"date":16,"hours":21,"minutes":20},
{"year":2021,"month":6,"date":16,"hours":22,"minutes":0},
{"year":2021,"month":6,"date":16,"hours":22,"minutes":40},
{"year":2021,"month":6,"date":16,"hours":23,"minutes":20},
{"year":2021,"month":6,"date":17,"hours":0,"minutes":0},
{"year":2021,"month":6,"date":17,"hours":0,"minutes":40},
{"year":2021,"month":6,"date":17,"hours":1,"minutes":20},
{"year":2021,"month":6,"date":17,"hours":2,"minutes":0},
{"year":2021,"month":6,"date":17,"hours":2,"minutes":40},
{"year":2021,"month":6,"date":17,"hours":3,"minutes":20},
{"year":2021,"month":6,"date":17,"hours":4,"minutes":0},
{"year":2021,"month":6,"date":17,"hours":4,"minutes":40},
{"year":2021,"month":6,"date":17,"hours":5,"minutes":20},
{"year":2021,"month":6,"date":17,"hours":6,"minutes":0}
]}},
"x2": {"field": "to"},
"y": {"field": "level", "type": "quantitative",
"scale": {"domain": [-1.309, 13.745], "nice": false, "zero": false},
"axis": {"orient": "right", "title": null, "values": [0, 12], "tickSize": 3, "labelPadding": 2}},
"color": {"condition": [
{"test": "datum.name == 'Frankfurt'", "value": "#1010d8"},
{"test": "datum.name == 'London'", "value": "#1e90ff"},
{"test": "datum.name == 'New York'", "value": "#00ee00"},
{"test": "datum.name == 'Sydney'", "value": "#b00000"}
], "value": "#ff0000"}
}
},
{
"data": {"name": "events"},
"mark": {"type": "rule", "color": "#a01414", "strokeWidth": 1.2, "clip": true},
"encoding": {"x": {"field": "t", "type": "temporal", "axis": {"title": null}}}
},
{
"data": {"values": [{"t": "2021-06-17T00:00"}]},
"mark": {"type": "rule", "color": "#d8d8d8", "strokeWidth": 1, "strokeDash": [3, 3], "clip": true},
"encoding": {"x": {"field": "t", "type": "temporal", "axis": {"title": null}}}
},
{
"data": {"values": [{"label": "Market Hours 6.0000"}]},
"mark": {"type": "text", "color": "#e8e8e8", "font": "Liberation Sans", "fontSize": 8, "align": "left", "baseline": "middle"},
"encoding": {
"text": {"field": "label"},
"x": {"datum": {"year":2021,"month":6,"date":16,"hours":11,"minutes":23}, "type": "temporal", "axis": {"title": null}},
"y": {"datum": 11.72, "type": "quantitative", "axis": {"title": null}}
}
},
{
"data": {"name": "events"},
"mark": {"type": "rect", "color": "#ff0000"},
"encoding": {
"x": {"field": "from", "type": "temporal", "axis": {"title": null}},
"x2": {"field": "to"},
"y": {"datum": -1.96, "type": "quantitative", "axis": {"title": null}},
"y2": {"datum": -4.15}
}
},
{
"data": {"name": "events"},
"mark": {"type": "text", "color": "#ffffff", "font": "Liberation Sans", "fontSize": 8, "align": "center", "baseline": "middle"},
"encoding": {
"text": {"field": "label"},
"x": {"field": "t", "type": "temporal", "axis": {"title": null}},
"y": {"datum": -3.05, "type": "quantitative", "axis": {"title": null}}
}
},
{
"data": {"values": [{"label": "smart-binary.com"}]},
"mark": {"type": "text", "color": "#000000", "stroke": "#000000", "strokeWidth": 3, "font": "Liberation Sans", "fontWeight": "bold", "fontSize": 14, "align": "left", "baseline": "middle"},
"encoding": {
"text": {"field": "label"},
"x": {"datum": {"year":2021,"month":6,"date":17,"hours":4,"minutes":50}, "type": "temporal", "axis": {"title": null}},
"y": {"datum": -1.1, "type": "quantitative", "axis": {"title": null}}
}
},
{
"data": {"values": [{"label": "smart-binary.com"}]},
"mark": {"type": "text", "color": "#ffffff", "font": "Liberation Sans", "fontWeight": "bold", "fontSize": 14, "align": "left", "baseline": "middle"},
"encoding": {
"text": {"field": "label"},
"x": {"datum": {"year":2021,"month":6,"date":17,"hours":4,"minutes":50}, "type": "temporal", "axis": {"title": null}},
"y": {"datum": -1.1, "type": "quantitative", "axis": {"title": null}}
}
}
]
}
]
}
